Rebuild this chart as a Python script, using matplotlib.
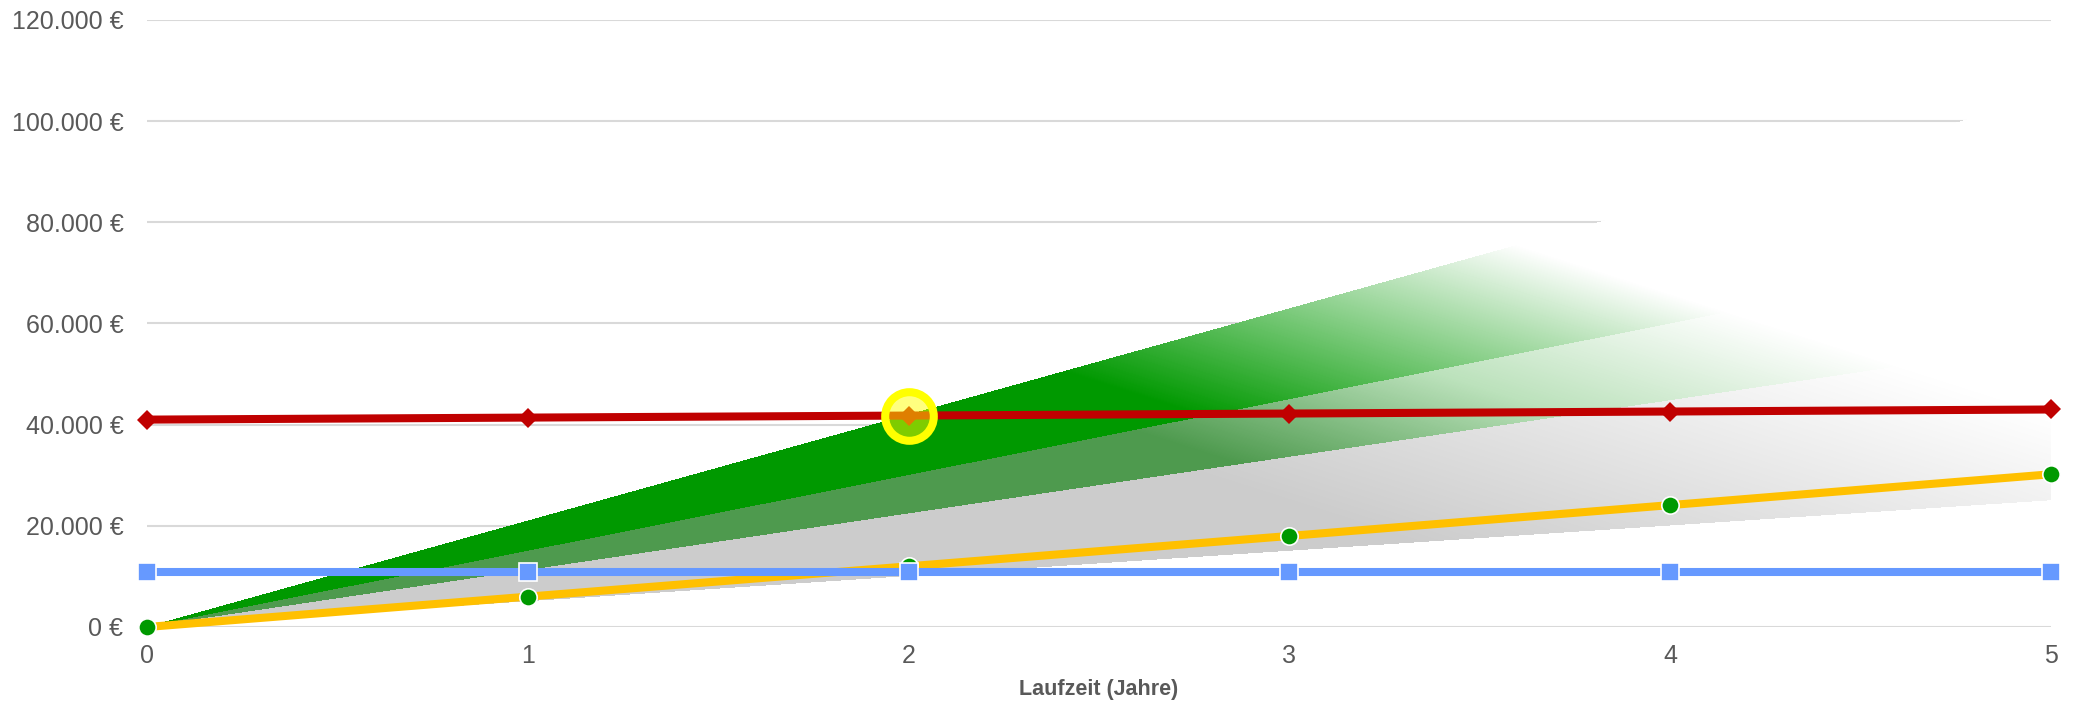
import numpy as np
import matplotlib.pyplot as plt
from matplotlib.colors import LinearSegmentedColormap

plt.rcParams['font.family'] = ['Liberation Sans', 'DejaVu Sans']

# -----------------------------
# Data (Euro per year of term)
# -----------------------------
years = [0, 1, 2, 3, 4, 5]
kosten = [41000, 41400, 41800, 42200, 42600, 43000]
ertrag = [0, 6000, 12000, 18000, 24100, 30200]
einsatz = [10800, 10800, 10800, 10800, 10800, 10800]

# boundaries of the shaded scenario fan
fan_top = [0, 21000, 42000, 63000, 84000, 105000]
fan_mid = [0, 15000, 30000, 45000, 60000, 75000]
fan_low = [0, 11200, 22400, 33600, 44800, 56000]
fan_base = [0, 5000, 10000, 15000, 20000, 25000]
fan_zero = [0, 0, 0, 0, 0, 0]

y_ticks = [0, 20000, 40000, 60000, 80000, 100000, 120000]
highlight_year = 2

TEXT = '#595959'
GRID = '#D9D9D9'


def euro(v):
    return f"{v:,.0f} €".replace(',', '.')


def draw_fan(ax, xmax, ymax):
    # each band fades towards white along a diagonal running up and to the right
    nx, ny = 1904, 607
    xs = np.linspace(0, xmax, nx)
    ys = np.linspace(0, ymax, ny)
    X, Y = np.meshgrid(xs, ys)
    u = X + Y / 24000.0
    u_end = 6.75

    img = np.zeros((ny, nx, 4))
    bands = [
        (fan_mid, fan_top, ['#FFFFFF', '#009900'], 4.5),
        (fan_low, fan_mid, ['#FFFFFF', '#BCE2BC', '#4E9A4E'], 4.2),
        (fan_base, fan_low, ['#FFFFFF', '#CCCCCC'], 4.0),
        (fan_zero, fan_base, ['#FFFFFF', '#FFFFFF'], 4.0),
    ]
    for lo, hi, colors, u_start in bands:
        cmap = LinearSegmentedColormap.from_list('fade', colors)
        lo_v = np.interp(xs, years, lo)[None, :]
        hi_v = np.interp(xs, years, hi)[None, :]
        mask = (Y >= lo_v) & (Y < hi_v)
        a = np.clip((u_end - u) / (u_end - u_start), 0, 1)
        rgb = cmap(a)[..., :3]
        img[mask, :3] = rgb[mask]
        img[mask, 3] = 1.0

    ax.imshow(img, extent=(0, xmax, 0, ymax), origin='lower', aspect='auto',
              interpolation='bilinear', zorder=1)


fig = plt.figure(figsize=(20.82, 7.05), dpi=100)
ax = fig.add_axes([147 / 2082, 1 - 627 / 705, 1904 / 2082, 607 / 705])

for v in y_ticks:
    ax.axhline(v, color=GRID, lw=1.5, zorder=1.5 if v == 0 else 0.5)

draw_fan(ax, years[-1], y_ticks[-1])

ax.plot(years, ertrag, color='#FFC000', lw=5.8, zorder=3, clip_on=False)
ax.plot(years, ertrag, 'o', ms=12.5, mfc='#009900', mec='white', mew=1.2,
        zorder=3.5, clip_on=False)
ax.plot(years, kosten, color='#C00000', lw=5.8, marker='D', ms=10,
        mfc='#C00000', mec='#C00000', mew=0, zorder=4, clip_on=False)
ax.plot(years, einsatz, color='#6699FF', lw=5.8, marker='s', ms=13,
        mfc='#6699FF', mec='white', mew=1.2, zorder=5, clip_on=False)

# highlighted point on the cost line
ax.plot([highlight_year], [kosten[highlight_year]], 'o', ms=35,
        mfc=(1, 1, 0, 0.5), mec='#FFFF00', mew=5.8, zorder=6, clip_on=False)

ax.set_xlim(years[0], years[-1])
ax.set_ylim(y_ticks[0], y_ticks[-1])
ax.set_xticks(years)
ax.set_xticklabels([str(y) for y in years])
ax.set_yticks(y_ticks)
ax.set_yticklabels([euro(v) for v in y_ticks])
ax.tick_params(axis='both', length=0, labelsize=18, labelcolor=TEXT)
ax.tick_params(axis='y', pad=17)
ax.tick_params(axis='x', pad=12)
for s in ax.spines.values():
    s.set_visible(False)

fig.text(ax.get_position().x0 + ax.get_position().width / 2, 1 - 690 / 705,
         'Laufzeit (Jahre)', ha='center', va='center', fontsize=15.5,
         fontweight='bold', color=TEXT)

fig.savefig('out.png', dpi=100, facecolor='white')
